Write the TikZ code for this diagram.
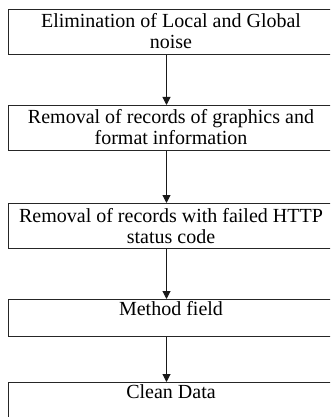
\documentclass[tikz,border=0pt]{standalone}
\usepackage{fontspec}
\setmainfont{Liberation Serif}
\usetikzlibrary{arrows.meta}
\begin{document}
\begin{tikzpicture}[x=1pt,y=-1pt,
  box/.style={draw=black!85,line width=1pt,inner sep=0pt,anchor=north west,minimum width=326pt},
  txt/.style={inner sep=0pt,anchor=north,align=center,font=\fontsize{20}{21}\selectfont,text=black},
  arr/.style={draw=black!90,line width=1pt,-{Triangle[width=8pt,length=8pt]}}]
\clip (0,0) rectangle (330,417);
\fill[white] (0,0) rectangle (330,417);
\node[box,minimum height=45pt] (b1) at (8,9) {};
\node[box,minimum height=45pt] (b2) at (8,105) {};
\node[box,minimum height=45pt] (b3) at (8,203) {};
\node[box,minimum height=37pt] (b4) at (8,299) {};
\node[box,minimum height=60pt] (b5) at (8,382) {};
\node[txt] (t1) at (171,13.5) {Elimination of Local and Global\\noise};
\node[txt] (t2) at (171,109.5) {Removal of records of graphics and\\format information};
\node[txt] (t3) at (171,208) {Removal of records with failed HTTP\\status code};
\node[txt] (t4) at (171,301) {Method field};
\node[txt] (t5) at (171,384) {Clean Data};
\draw[arr] ([xshift=-5pt]b1.south) -- ([xshift=-5pt]b2.north);
\draw[arr] ([xshift=-5pt]b2.south) -- ([xshift=-5pt]b3.north);
\draw[arr] ([xshift=-5pt]b3.south) -- ([xshift=-5pt]b4.north);
\draw[arr] ([xshift=-5pt]b4.south) -- ([xshift=-5pt]b5.north);
\end{tikzpicture}
\end{document}
